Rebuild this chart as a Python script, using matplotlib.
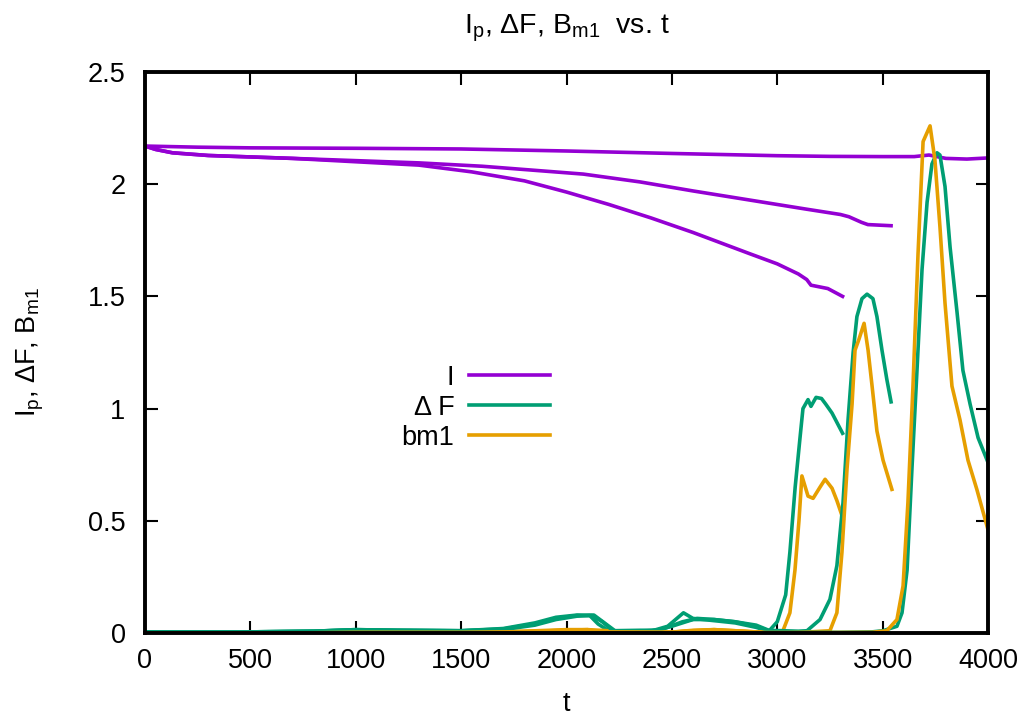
import matplotlib
matplotlib.use("Agg")
import matplotlib.pyplot as plt

plt.rcParams['font.family'] = ['Liberation Sans', 'DejaVu Sans']
plt.rcParams['mathtext.fontset'] = 'custom'
plt.rcParams['mathtext.rm'] = 'Liberation Sans'
plt.rcParams['mathtext.it'] = 'Liberation Sans'

# ---------------- data ----------------
# Run 1 (ends near t = 3310)
t_I1 = [0, 50, 130, 300, 700, 1000, 1300, 1550, 1800, 2000, 2200, 2400, 2600, 2870, 3000, 3100,
        3140, 3160, 3240, 3310]
I1 = [2.17, 2.155, 2.14, 2.128, 2.115, 2.10, 2.085, 2.055, 2.015, 1.965, 1.91, 1.85, 1.785,
      1.69, 1.645, 1.60, 1.575, 1.55, 1.535, 1.50]

t_F1 = [0, 500, 800, 1000, 1200, 1500, 1700, 1850, 1950, 2050, 2110, 2150, 2200, 2300, 2400, 2480,
        2555, 2600, 2700, 2800, 2900, 2960, 3000, 3040, 3060, 3085, 3108, 3122, 3146, 3160, 3184,
        3210, 3230, 3260, 3310]
F1 = [0.005, 0.005, 0.008, 0.015, 0.012, 0.01, 0.02, 0.045, 0.07, 0.08, 0.078, 0.04, 0.01, 0.005,
      0.008, 0.03, 0.09, 0.065, 0.055, 0.045, 0.025, 0.008, 0.05, 0.17, 0.36, 0.65, 0.87, 1.0,
      1.04, 1.01, 1.05, 1.045, 1.02, 0.98, 0.89]

t_B1 = [0, 700, 1000, 1500, 1800, 2000, 2100, 2150, 2200, 2500, 2600, 2700, 2800, 2950, 3027,
        3060, 3084, 3103, 3117, 3146, 3170, 3203, 3227, 3260, 3283, 3312]
B1 = [0, 0, 0.003, 0.003, 0.008, 0.015, 0.015, 0.005, 0.0, 0.003, 0.01, 0.015, 0.01, 0.002,
      0.01, 0.09, 0.28, 0.50, 0.70, 0.61, 0.60, 0.65, 0.685, 0.645, 0.59, 0.51]

# Run 2 (ends near t = 3540)
t_I2 = [0, 50, 130, 300, 700, 1000, 1300, 1600, 2080, 2350, 2600, 3130, 3300, 3340, 3400, 3430,
        3540]
I2 = [2.17, 2.155, 2.14, 2.128, 2.115, 2.105, 2.095, 2.08, 2.045, 2.01, 1.97, 1.89, 1.865, 1.855,
      1.83, 1.82, 1.815]

t_F2 = [0, 500, 800, 1000, 1200, 1500, 1700, 1850, 1950, 2050, 2130, 2180, 2230, 2350, 2450,
        2550, 2620, 2700, 2800, 2900, 2960, 3100, 3141, 3203, 3250, 3283, 3312, 3336, 3360,
        3378, 3402, 3426, 3454, 3473, 3497, 3520, 3540]
F2 = [0.005, 0.005, 0.008, 0.015, 0.012, 0.01, 0.018, 0.04, 0.065, 0.078, 0.08, 0.045, 0.01,
      0.01, 0.015, 0.05, 0.065, 0.06, 0.05, 0.035, 0.012, 0.008, 0.01, 0.06, 0.15, 0.30, 0.58,
      0.95, 1.25, 1.41, 1.49, 1.51, 1.49, 1.41, 1.26, 1.13, 1.03]

t_B2 = [0, 700, 1000, 1500, 1800, 2000, 2100, 2200, 2250, 2500, 2600, 2700, 2800, 2950, 3100,
        3250, 3283, 3307, 3331, 3355, 3369, 3388, 3412, 3431, 3450, 3473, 3502, 3544]
B2 = [0, 0, 0.003, 0.003, 0.006, 0.012, 0.015, 0.01, 0.002, 0.004, 0.012, 0.015, 0.01, 0.002,
      0.002, 0.01, 0.09, 0.36, 0.73, 1.02, 1.26, 1.31, 1.38, 1.26, 1.10, 0.90, 0.77, 0.64]

# Run 3 (runs to t = 4000)
t_I3 = [0, 250, 500, 1000, 1500, 2000, 2500, 3000, 3250, 3500, 3650, 3720, 3800, 3900, 4000]
I3 = [2.17, 2.165, 2.162, 2.16, 2.157, 2.148, 2.137, 2.127, 2.124, 2.123, 2.123, 2.13, 2.115,
      2.112, 2.117]

t_F3 = [0, 500, 800, 1000, 1200, 1500, 1700, 1850, 1950, 2050, 2120, 2170, 2220, 2350, 2420,
        2500, 2600, 2700, 2800, 2900, 2960, 3100, 3300, 3450, 3502, 3568, 3592, 3616, 3639,
        3663, 3687, 3711, 3734, 3758, 3772, 3796, 3820, 3853, 3881, 3915, 3953, 4000]
F3 = [0.005, 0.005, 0.008, 0.014, 0.012, 0.01, 0.015, 0.035, 0.06, 0.075, 0.078, 0.05, 0.01,
      0.012, 0.01, 0.03, 0.06, 0.06, 0.05, 0.03, 0.01, 0.003, 0.003, 0.005, 0.01, 0.03, 0.09,
      0.28, 0.73, 1.17, 1.62, 1.92, 2.09, 2.14, 2.13, 1.99, 1.72, 1.43, 1.17, 1.02, 0.87, 0.76]

t_B3 = [0, 700, 1000, 1500, 1800, 2000, 2100, 2200, 2500, 2600, 2700, 2800, 2950, 3200, 3450,
        3520, 3568, 3597, 3620, 3644, 3668, 3692, 3725, 3748, 3772, 3796, 3829, 3867, 3905,
        3947, 4000]
B3 = [0, 0, 0.003, 0.003, 0.006, 0.012, 0.013, 0.005, 0.004, 0.01, 0.012, 0.008, 0.002, 0.002,
      0.003, 0.01, 0.06, 0.21, 0.58, 1.10, 1.69, 2.19, 2.26, 2.11, 1.81, 1.47, 1.10, 0.95, 0.77,
      0.64, 0.46]

labels = ["I", "Δ F", "bm1"]
x_ticks = [0, 500, 1000, 1500, 2000, 2500, 3000, 3500, 4000]
y_ticks = [0, 0.5, 1, 1.5, 2, 2.5]
y_tick_labels = ["0", "0.5", "1", "1.5", "2", "2.5"]

# ---------------- figure ----------------
c_I, c_F, c_B = "#9400d3", "#009e73", "#e69f00"
lw = 2.6
fs = 19.5

fig = plt.figure(figsize=(10.25, 7.17), dpi=100)
ax = fig.add_axes([145 / 1025, 84 / 717, 843 / 1025, 561 / 717])

runs = [(t_I1, I1, t_F1, F1, t_B1, B1),
        (t_I2, I2, t_F2, F2, t_B2, B2),
        (t_I3, I3, t_F3, F3, t_B3, B3)]
for k, (ti, vi, tf, vf, tb, vb) in enumerate(runs):
    ax.plot(ti, vi, color=c_I, lw=lw, label=labels[0] if k == 0 else None)
    ax.plot(tf, vf, color=c_F, lw=lw, label=labels[1] if k == 0 else None)
    ax.plot(tb, vb, color=c_B, lw=lw, label=labels[2] if k == 0 else None)

ax.set_xlim(0, 4000)
ax.set_ylim(0, 2.5)
ax.set_xticks(x_ticks)
ax.set_xticklabels([str(v) for v in x_ticks])
ax.set_yticks(y_ticks)
ax.set_yticklabels(y_tick_labels)
ax.tick_params(direction='in', length=9, width=1.5, top=True, right=True,
               labelsize=fs)
ax.tick_params(axis='x', pad=11)
ax.tick_params(axis='y', pad=14)
for s in ax.spines.values():
    s.set_linewidth(2.8)

ax.set_title(r"I$_{\rm p}$, ΔF, B$_{\rm m1}$  vs. t", fontsize=20.5, pad=28)
ax.set_xlabel("t", fontsize=fs, labelpad=12)
ax.set_ylabel(r"I$_{\rm p}$, ΔF, B$_{\rm m1}$", fontsize=fs, labelpad=30)

leg = ax.legend(loc='upper right', bbox_to_anchor=(0.481, 0.478), frameon=False,
                markerfirst=False, fontsize=fs, handlelength=3.0, handletextpad=0.55,
                labelspacing=0.15, borderpad=0, borderaxespad=0)

fig.savefig("out.png", dpi=100)
